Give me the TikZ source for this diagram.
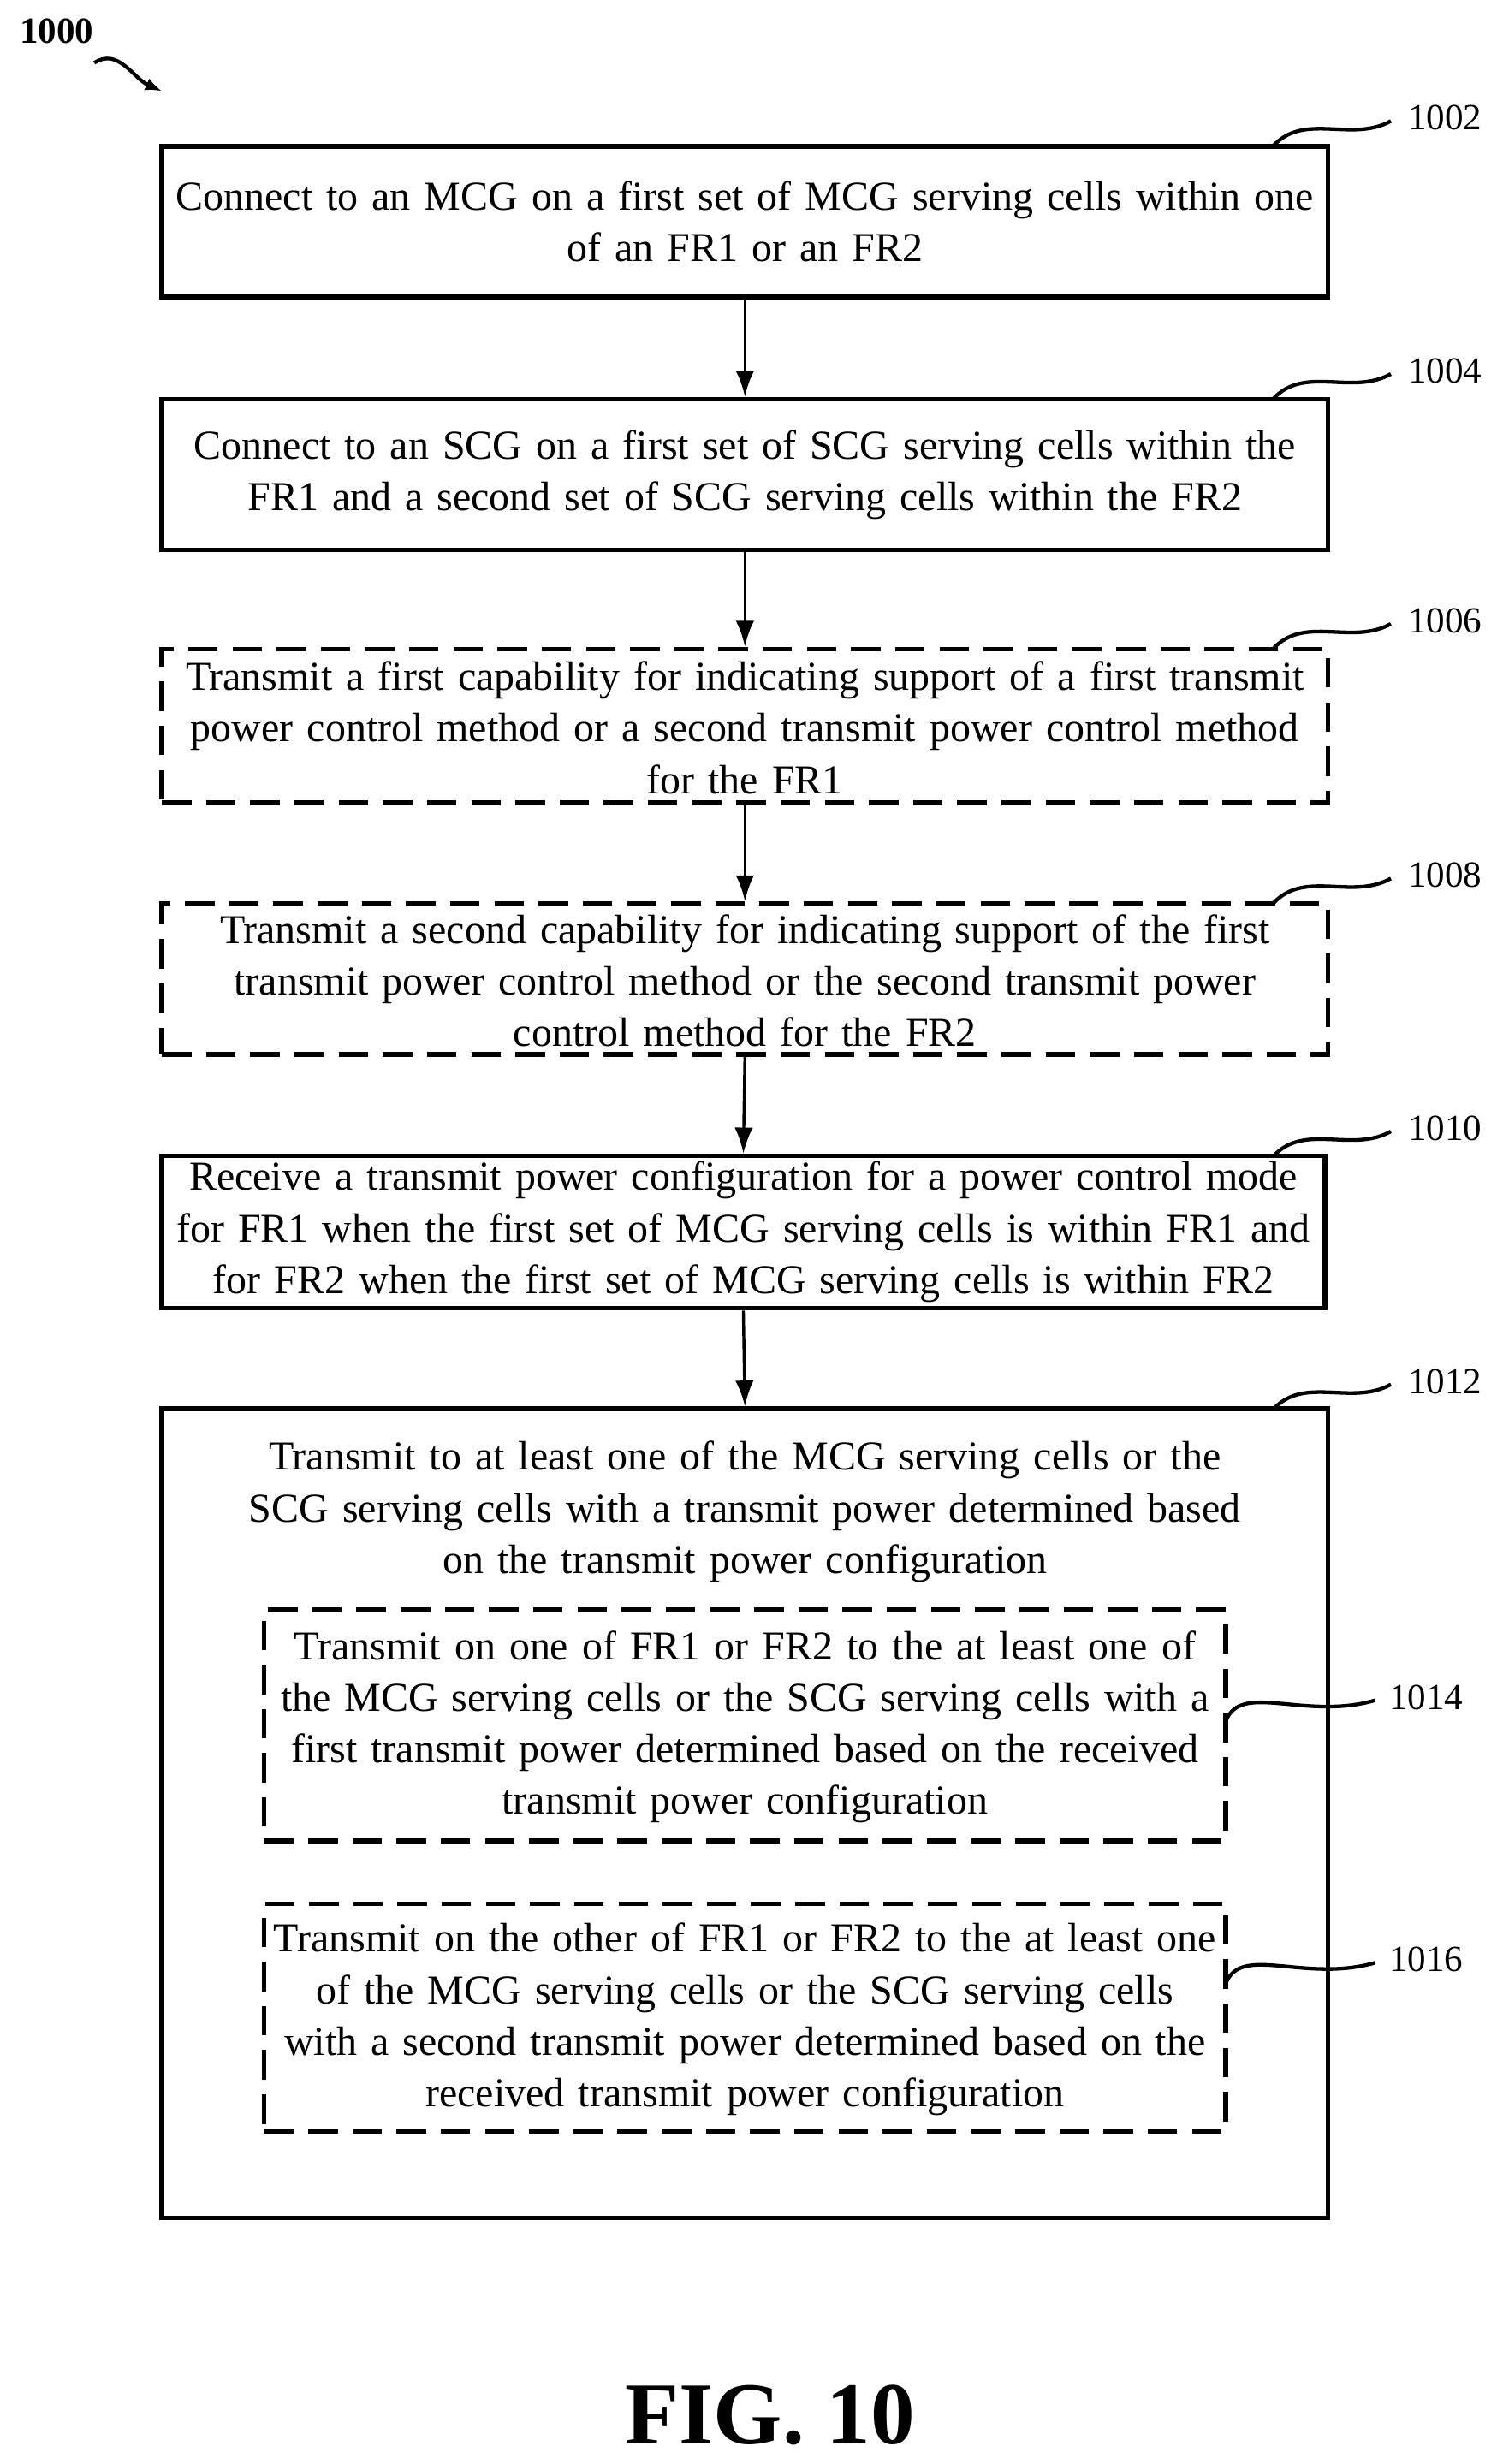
\documentclass[tikz,border=0pt]{standalone}
\usepackage{fontspec}
\setmainfont{Liberation Serif}
\begin{document}
\begin{tikzpicture}[x=0.03cm,y=-0.03cm,
  box/.style={draw,line width=2.6pt,rectangle,inner sep=0pt,align=center,font=\fontsize{22.3}{28}\selectfont},
  dbox/.style={box,dash pattern=on 16pt off 8pt},
  arr/.style={line width=1.6pt,-{Latex[length=14pt,width=10pt]}},
  sq/.style={line width=2pt},
  lab/.style={font=\fontsize{20}{22}\selectfont,anchor=west}]
\usetikzlibrary{arrows.meta}
\useasboundingbox (0,0) rectangle (960,1568);
\node[font=\bfseries\fontsize{20}{22}\selectfont] (n1000) at (36,20) {1000};
\coordinate (s0) at (60,40); \coordinate (s1) at (103,58);
\draw[sq,-{Latex[length=9pt,width=7pt]}] (s0) .. controls (75,30) and (85,50) .. (s1);

\node[box,minimum width=742*0.03cm,minimum height=96*0.03cm] (b1) at (474,141) {};
\node[box,draw=none,text width=760*0.03cm] at (b1) {Connect to an MCG on a first set of MCG serving cells within one\\of an FR1 or an FR2};
\node[box,minimum width=742*0.03cm,minimum height=96*0.03cm] (b2) at (474,302) {};
\node[box,draw=none,text width=760*0.03cm] at (b2) {Connect to an SCG on a first set of SCG serving cells within the\\FR1 and a second set of SCG serving cells within the FR2};
\node[dbox,minimum width=742*0.03cm,minimum height=98*0.03cm] (b3) at (474,462) {};
\node[box,draw=none,text width=760*0.03cm] at (474,463) {Transmit a first capability for indicating support of a first transmit\\power control method or a second transmit power control method\\for the FR1};
\node[dbox,minimum width=742*0.03cm,minimum height=96*0.03cm] (b4) at (474,623) {};
\node[box,draw=none,text width=760*0.03cm] at (474,624) {Transmit a second capability for indicating support of the first\\transmit power control method or the second transmit power\\control method for the FR2};
\node[box,minimum width=740*0.03cm,minimum height=97*0.03cm] (b5) at (473,784) {};
\node[box,draw=none,text width=760*0.03cm] at (b5) {Receive a transmit power configuration for a power control mode\\for FR1 when the first set of MCG serving cells is within FR1 and\\for FR2 when the first set of MCG serving cells is within FR2};
\node[box,minimum width=742*0.03cm,minimum height=515*0.03cm] (b6) at (474,1154) {};
\node[box,draw=none,text width=760*0.03cm] at (474,962) {Transmit to at least one of the MCG serving cells or the\\SCG serving cells with a transmit power determined based\\on the transmit power configuration};
\node[dbox,minimum width=612*0.03cm,minimum height=147*0.03cm] (b7) at (474,1098) {};
\node[box,draw=none,text width=640*0.03cm] at (474,1099) {Transmit on one of FR1 or FR2 to the at least one of\\the MCG serving cells or the SCG serving cells with a\\first transmit power determined based on the received\\transmit power configuration};
\node[dbox,minimum width=612*0.03cm,minimum height=145*0.03cm] (b8) at (474,1284) {};
\node[box,draw=none,text width=640*0.03cm] at (474,1285) {Transmit on the other of FR1 or FR2 to the at least one\\of the MCG serving cells or the SCG serving cells\\with a second transmit power determined based on the\\received transmit power configuration};

\draw[arr] (b1.south) -- (b2.north);
\draw[arr] (b2.south) -- (b3.north);
\draw[arr] (b3.south) -- (b4.north);
\draw[arr] (b4.south) -- (b5.north);
\draw[arr] (b5.south) -- (b6.north);

\foreach \n/\y/\t in {1/93/1002,2/254/1004,3/413/1006,4/575/1008,5/736/1010,6/897/1012}{
  \coordinate (c\n) at (810,\y);
  \draw[sq] (c\n) .. controls (830,\y-22) and (860,\y-2) .. (885,\y-16);
  \node[lab] (l\n) at (892,\y-18) {\t};
}
\coordinate (c7) at (780,1095);
\draw[sq] (c7) .. controls (790,1070) and (830,1095) .. (875,1082);
\node[lab] (l7) at (880,1080) {1014};
\coordinate (c8) at (780,1262);
\draw[sq] (c8) .. controls (790,1237) and (830,1262) .. (875,1249);
\node[lab] (l8) at (880,1247) {1016};

\node[font=\bfseries\fontsize{48}{50}\selectfont] (fig) at (490,1537) {FIG. 10};
\end{tikzpicture}
\end{document}
